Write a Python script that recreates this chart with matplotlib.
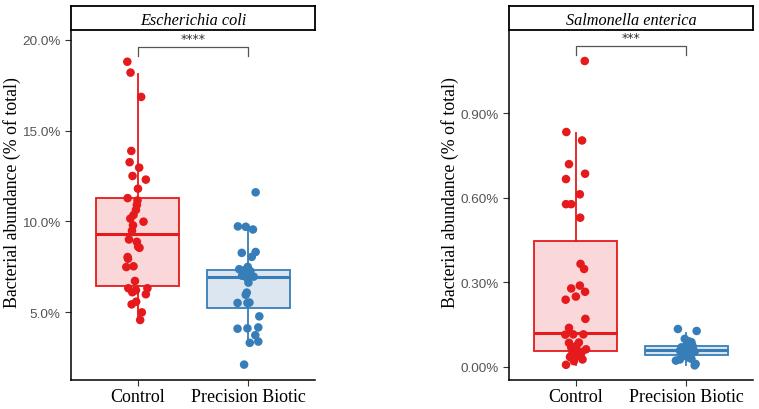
import matplotlib
matplotlib.use("Agg")
import matplotlib.pyplot as plt
from matplotlib.ticker import FuncFormatter

# ---------------- data (percent of total) ----------------
groups = ["Control", "Precision Biotic"]
species = ["Escherichia coli", "Salmonella enterica"]
signif = ["****", "***"]

ecoli_control = [18.8, 18.2, 16.86, 13.88, 13.26, 12.96, 12.5, 12.3, 11.8, 11.28, 11.15,
                 10.9, 10.63, 10.35, 10.15, 9.98, 9.78, 9.48, 9.0, 8.87, 8.54, 8.6, 8.03,
                 7.94, 7.48, 7.52, 6.71, 6.31, 6.31, 6.09, 6.2, 5.98, 5.57, 5.42, 4.98, 4.56]
ecoli_control_jit = [-0.092, -0.063, 0.033, -0.056, -0.071, 0.015, -0.045, 0.075, 0.004,
                     -0.089, 0.0, -0.006, -0.014, -0.036, -0.065, 0.054, -0.041, -0.05,
                     -0.077, -0.006, 0.018, 0.006, -0.089, -0.086, -0.101, -0.036, -0.023,
                     -0.083, 0.089, -0.047, -0.014, 0.075, -0.012, -0.053, 0.039, 0.024]
ecoli_pb = [11.6, 9.72, 9.7, 9.55, 8.31, 8.26, 8.04, 7.49, 7.36, 7.3, 7.25, 7.0, 6.95, 6.9,
            6.62, 6.07, 5.95, 5.5, 5.5, 5.52, 4.76, 4.08, 4.1, 4.15, 3.72, 3.3, 3.37, 2.1]
ecoli_pb_jit = [0.065, -0.095, -0.024, 0.041, 0.065, -0.060, 0.030, -0.006, -0.083, -0.036,
                0.018, -0.057, 0.047, -0.015, 0.0, -0.015, -0.024, -0.098, -0.009, 0.009,
                0.098, -0.098, -0.009, 0.089, 0.062, 0.012, 0.089, -0.039]

salm_control = [1.085, 0.833, 0.803, 0.719, 0.685, 0.666, 0.612, 0.577, 0.577, 0.529, 0.365,
                0.347, 0.278, 0.288, 0.249, 0.266, 0.238, 0.170, 0.138, 0.114, 0.115, 0.115,
                0.085, 0.086, 0.069, 0.074, 0.059, 0.052, 0.062, 0.051, 0.045, 0.040, 0.035,
                0.038, 0.026, 0.035, 0.007, 0.020]
salm_control_jit = [0.083, -0.083, 0.059, -0.059, 0.086, -0.086, 0.039, -0.086, -0.039,
                    0.042, 0.045, 0.077, -0.039, 0.039, 0.003, 0.086, -0.089, 0.089, -0.059,
                    -0.092, -0.021, 0.071, -0.059, 0.030, -0.039, 0.009, -0.009, 0.056,
                    0.095, 0.015, -0.030, 0.045, -0.045, 0.009, 0.063, -0.050, -0.086, -0.015]
salm_pb = [0.134, 0.127, 0.099, 0.09, 0.087, 0.075, 0.069, 0.063, 0.057, 0.051, 0.053, 0.045,
           0.04, 0.057, 0.022, 0.026, 0.028, 0.01, 0.005, 0.033, 0.063, 0.075]
salm_pb_jit = [-0.077, 0.092, -0.015, 0.024, 0.045, 0.0, -0.045, 0.059, 0.015, -0.030,
               0.074, 0.030, -0.015, -0.059, -0.095, -0.059, 0.045, 0.083, 0.074, 0.015,
               -0.006, 0.054]

# box statistics: (whislo, q1, med, q3, whishi)
ecoli_box = [(4.56, 6.43, 9.28, 11.27, 18.1), (3.3, 5.2, 6.95, 7.3, 9.6)]
salm_box = [(0.007, 0.057, 0.119, 0.446, 0.83), (0.005, 0.043, 0.059, 0.074, 0.12)]

ecoli_ticks = [5, 10, 15, 20]
salm_ticks = [0.0, 0.3, 0.6, 0.9]
ecoli_ylim = (1.25, 20.55)
salm_ylim = (-0.047, 1.195)
bracket = [(19.61, 19.12), (1.138, 1.105)]

colors = ["#E41A1C", "#377EB8"]
fills = ["#FAD7D9", "#DCE6F1"]

fig = plt.figure(figsize=(7.59, 4.10), dpi=100)

panels = [
    (0.0935, species[0], [ecoli_control, ecoli_pb], [ecoli_control_jit, ecoli_pb_jit],
     ecoli_box, ecoli_ticks, ecoli_ylim, "{:.1f}%", bracket[0], signif[0]),
    (0.6706, species[1], [salm_control, salm_pb], [salm_control_jit, salm_pb_jit],
     salm_box, salm_ticks, salm_ylim, "{:.2f}%", bracket[1], signif[1]),
]

for left, title, pts, jits, boxes, ticks, ylim, fmt, br, star in panels:
    # strip first so the significance stars sit on top of it
    sax = fig.add_axes([left, 0.9244, 0.3215, 0.0585])
    sax.set_xticks([])
    sax.set_yticks([])
    sax.set_facecolor("white")
    for s in sax.spines.values():
        s.set_linewidth(1.3)
        s.set_color("black")
    sax.text(0.5, 0.4, title, ha="center", va="center", fontfamily="Liberation Serif",
             fontstyle="italic", fontsize=11.7, transform=sax.transAxes)

    ax = fig.add_axes([left, 0.0707, 0.3215, 0.8537])
    ax.patch.set_alpha(0)
    for i in range(2):
        lo, q1, med, q3, hi = boxes[i]
        stats = [dict(whislo=lo, q1=q1, med=med, q3=q3, whishi=hi, fliers=[])]
        ax.bxp(stats, positions=[i + 1], widths=0.75, patch_artist=True, showcaps=False,
               boxprops=dict(facecolor=fills[i], edgecolor=colors[i], linewidth=1.3),
               whiskerprops=dict(color=colors[i], linewidth=1.3),
               medianprops=dict(color=colors[i], linewidth=2.2), zorder=2)
        xs = [i + 1 + j for j in jits[i]]
        ax.scatter(xs, pts[i], s=38, color=colors[i], edgecolors="none", zorder=3)
    ax.set_xlim(0.4, 2.6)
    ax.set_ylim(*ylim)
    ax.set_yticks(ticks)
    ax.yaxis.set_major_formatter(FuncFormatter(lambda v, p, f=fmt: f.format(v)))
    ax.set_xticks([1, 2])
    ax.set_xticklabels(groups, fontfamily="Liberation Serif", fontsize=13, color="black")
    for lab in ax.get_yticklabels():
        lab.set_fontfamily("Liberation Sans")
        lab.set_fontsize(9.7)
        lab.set_color("#555555")
    ax.tick_params(axis="both", length=4, width=0.8, color="#333333")
    ax.tick_params(axis="x", pad=2)
    ax.set_ylabel("Bacterial abundance (% of total)", fontfamily="Liberation Serif",
                  fontsize=12.8, labelpad=1, y=0.537)
    for s in ["top", "right"]:
        ax.spines[s].set_visible(False)
    for s in ["left", "bottom"]:
        ax.spines[s].set_linewidth(1.1)
        ax.spines[s].set_color("black")
    # significance bracket
    ax.plot([1, 1, 2, 2], [br[1], br[0], br[0], br[1]], color="#555555", linewidth=0.9,
            zorder=4, clip_on=False)
    ax.annotate(star, xy=(1.5, br[0]), xytext=(0, 1.5), textcoords="offset points",
                ha="center", va="bottom", fontsize=9, color="#333333", zorder=5,
                annotation_clip=False)

fig.savefig("out.png", dpi=100)
